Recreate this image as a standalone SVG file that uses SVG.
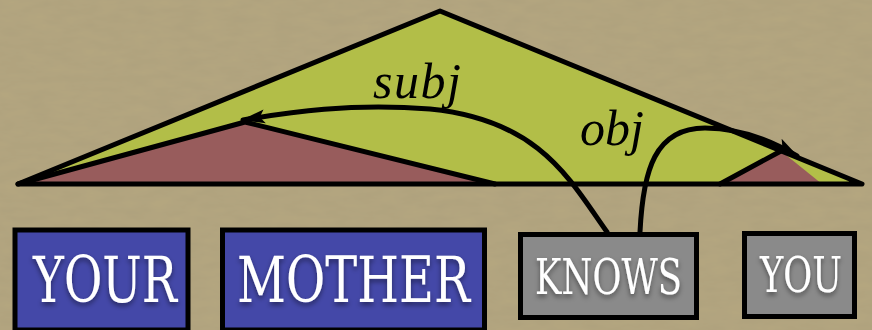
<svg xmlns="http://www.w3.org/2000/svg" width="872" height="330" viewBox="0 0 872 330">
  <defs>
    <style>
      .edge { fill: none; stroke: #000; stroke-width: 5; stroke-linecap: round; stroke-linejoin: round; }
      .box { stroke: #000; stroke-width: 5; }
      .word { font-family: "DejaVu Serif", "Liberation Serif", serif; fill: #fff; filter: url(#textShadow); }
      .rel { font-family: "Liberation Serif", "Times New Roman", serif; font-style: italic; font-size: 50px; fill: #000; }
      .arc { fill: none; stroke: #000; stroke-width: 5; stroke-linecap: round; }
    </style>
    <filter id="paper" x="0" y="0" width="100%" height="100%">
      <feTurbulence type="fractalNoise" baseFrequency="0.04 0.12" numOctaves="3" seed="4" result="n"/>
      <feColorMatrix in="n" type="matrix" values="0 0 0 0 0.35  0 0 0 0 0.3  0 0 0 0 0.2  0 0 0 0.35 -0.05"/>
    </filter>
    <filter id="textShadow" x="-20%" y="-30%" width="140%" height="170%">
      <feDropShadow dx="0" dy="3" stdDeviation="2.5" flood-color="#000" flood-opacity="0.45"/>
    </filter>
    <marker id="head" markerUnits="userSpaceOnUse" markerWidth="26" markerHeight="18" viewBox="0 0 26 18" refX="22" refY="9" orient="auto">
      <path d="M0 2 L24 9 L0 16 L5 9 Z" fill="#000"/>
    </marker>
  </defs>

  <!-- parchment backdrop -->
  <rect width="872" height="330" fill="#b4a67f"/>
  <rect width="872" height="330" filter="url(#paper)"/>

  <!-- sentence constituent (S) -->
  <g id="tri-s">
    <polygon points="18,184 440,11 862,184" fill="#b2be48"/>
  </g>

  <!-- subject NP constituent -->
  <g id="tri-np-subj">
    <polygon points="18,184 245,122 495,184" fill="#985c5c"/>
    <polyline class="edge" points="18,184 245,122 495,184"/>
  </g>

  <!-- object NP constituent -->
  <g id="tri-np-obj">
    <polygon points="720,184 781,151 822,184" fill="#985c5c"/>
    <line class="edge" x1="720" y1="184" x2="781" y2="151"/>
  </g>

  <g id="tri-s-outline">
    <polygon class="edge" points="18,184 440,11 862,184"/>
  </g>

  <!-- dependency arcs -->
  <g id="connectors">
    <path class="arc" d="M607 232 C 570 180, 540 120, 430 109 C 350 103, 290 112, 243 120" marker-end="url(#head)"/>
    <path class="arc" d="M640 232 C 643 170, 655 128, 705 128 C 740 128, 770 140, 797 156" marker-end="url(#head)"/>
    <text class="rel" x="373" y="98" textLength="88">subj</text>
    <text class="rel" x="580" y="145">obj</text>
  </g>

  <!-- word tokens -->
  <g id="word-your">
    <rect class="box" x="15" y="230" width="173" height="100" fill="#4448a8"/>
    <text class="word" x="33" y="302" font-size="64" textLength="144" lengthAdjust="spacingAndGlyphs">YOUR</text>
  </g>
  <g id="word-mother">
    <rect class="box" x="222.5" y="230" width="262" height="100" fill="#4448a8"/>
    <text class="word" x="237" y="302" font-size="64" textLength="233" lengthAdjust="spacingAndGlyphs">MOTHER</text>
  </g>
  <g id="word-knows">
    <rect class="box" x="520.5" y="234.5" width="176" height="83" fill="#8a8a8a"/>
    <text class="word" x="535" y="294" font-size="49" textLength="147" lengthAdjust="spacingAndGlyphs">KNOWS</text>
  </g>
  <g id="word-you">
    <rect class="box" x="744.5" y="233.5" width="110" height="83" fill="#8a8a8a"/>
    <text class="word" transform="translate(760 292) scale(0.76 1)" x="0" y="0" font-size="49" textLength="108" lengthAdjust="spacingAndGlyphs">YOU</text>
  </g>
</svg>
